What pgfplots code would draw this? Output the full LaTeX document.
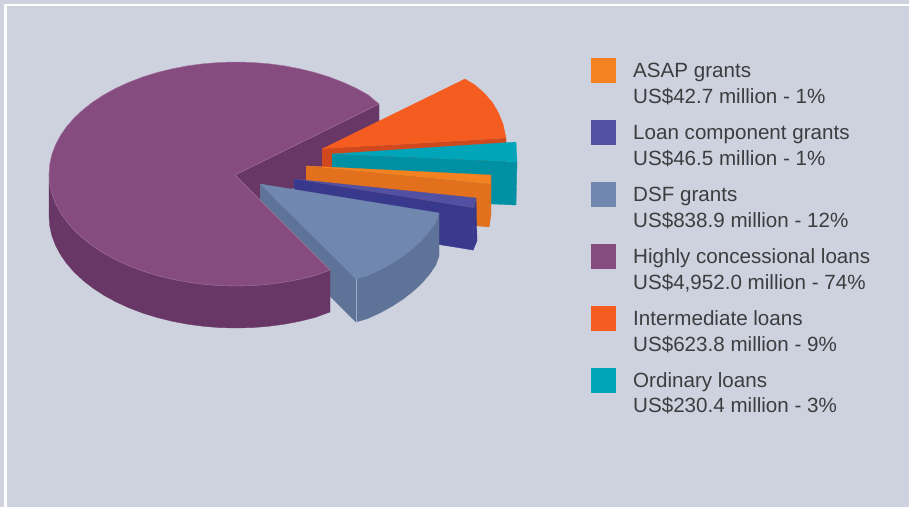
\documentclass[border=0pt]{standalone}
\usepackage{fontspec}
\setmainfont{Liberation Sans}
\usepackage{pgfplots}
\pgfplotsset{compat=1.18}
\definecolor{bg}{HTML}{CDD2DE}
\definecolor{txt}{HTML}{3D3D40}
\definecolor{asap}{HTML}{F58220}
\definecolor{asapw}{HTML}{E2701C}
\definecolor{loan}{HTML}{5150A2}
\definecolor{loanw}{HTML}{38388C}
\definecolor{dsf}{HTML}{7087B0}
\definecolor{dsfw}{HTML}{5F7398}
\definecolor{hcl}{HTML}{864C80}
\definecolor{hclw}{HTML}{693766}
\definecolor{inter}{HTML}{F55D20}
\definecolor{interw}{HTML}{D0491E}
\definecolor{ord}{HTML}{00A5BA}
\definecolor{ordw}{HTML}{0090A3}
\tikzset{
  face/.style={fill=#1, draw=#1, line width=0.3pt},
  leg/.style={font=\fontsize{20.6}{24}\selectfont, text=txt, anchor=base west, inner sep=0pt},
}
\begin{document}
\begin{tikzpicture}
\begin{axis}[
  scale only axis, width=909pt, height=507pt,
  xmin=0, xmax=909, ymin=0, ymax=507,
  y dir=reverse, hide axis,
]
% background and white frame
\addplot[fill=bg, draw=none] coordinates {(0,0) (909,0) (909,507) (0,507)};
\addplot[draw=white, line width=2.4pt] coordinates {(5.5,507) (5.5,5) (909,5)};

% inner wall of the big slice
\addplot[face=hclw] coordinates {(235,175) (379,104) (379,146) (235,217)};

% Intermediate loans
\addplot[face=interw] coordinates {(322,149) (506,138) (506,180) (322,191)};
\addplot[face=inter] coordinates {(322,149) (465,79) (475,85) (484,93) (492,102) (498,112) (503,124) (506,138)};

% Ordinary loans
\addplot[face=ordw] coordinates {(332,154) (517,162) (516,205) (332,197)};
\addplot[face=ord] coordinates {(332,154) (516,142) (517,162)};

% ASAP grants
\addplot[face=asapw] coordinates {(306,166) (490,184) (489,227) (306,209)};
\addplot[face=asapw] coordinates {(491,175) (491,215) (489,227) (490,184)};
\addplot[face=asap] coordinates {(306,166) (491,175) (490,184)};

% Loan component grants
\addplot[face=loanw] coordinates {(294,179) (474,208) (473,250) (294,221)};
\addplot[face=loanw] coordinates {(476,198) (477,241) (473,250) (474,208)};
\addplot[face=loan] coordinates {(294,179) (476,198) (474,208)};

% DSF grants
\addplot[face=dsfw] coordinates {(260,184) (356,279) (356,322) (260,227)};
\addplot[face=dsfw] coordinates {(439,213) (439,256) (435.7,265.3) (429.5,274.3) (422,283) (413.2,291.2) (403.2,299) (392.2,306.2) (380.2,312.8) (367.3,318.7) (356,322) (356,279)};
\addplot[face=dsf] coordinates {(260,184) (439,213) (435.7,222.3) (429.5,231.3) (422,240) (413.2,248.2) (403.2,256) (392.2,263.2) (380.2,269.8) (367.3,275.7) (356,279)};
\addplot[draw=dsf!70!white, line width=0.6pt] coordinates {(356,279) (356,322)};

% Highly concessional loans, outer wall then top
\addplot[face=hclw] coordinates {(49,174) (49,216) (49.7,225.8) (51.8,235.4) (55.4,245) (60.3,254.3) (66.5,263.3) (74.1,272) (82.8,280.2) (92.8,288) (103.8,295.2) (115.8,301.8) (128.7,307.7) (142.5,313) (157,317.5) (172,321.2) (187.6,324.2) (203.5,326.3) (219.7,327.6) (236,328) (252.3,327.6) (268.5,326.3) (284.4,324.2) (300,321.2) (315,317.5) (330,312) (330,270) (235,175)};
\addplot[fill=hcl, draw=hcl!75!white, line width=0.4pt] coordinates {(235,175) (330,270) (315,275.5) (300,279.2) (284.4,282.2) (268.5,284.3) (252.3,285.6) (236,286) (219.7,285.6) (203.5,284.3) (187.6,282.2) (172,279.2) (157,275.5) (142.5,271) (128.7,265.7) (115.8,259.8) (103.8,253.2) (92.8,246) (82.8,238.2) (74.1,230) (66.5,221.3) (60.3,212.3) (55.4,203) (51.8,193.4) (49.7,183.8) (49,174) (49.7,164.2) (51.8,154.6) (55.4,145) (60.3,135.7) (66.5,126.7) (74.1,118) (82.8,109.8) (92.8,102) (103.8,94.8) (115.8,88.2) (128.7,82.3) (142.5,77) (157,72.5) (172,68.8) (187.6,65.8) (203.5,63.7) (219.7,62.4) (236,62) (252.3,62.4) (268.5,63.7) (284.4,65.8) (300,68.8) (315,72.5) (329.5,77) (343.3,82.3) (356.2,88.2) (368.2,94.8) (379,104) (235,175)};

% legend
\addplot[face=asap] coordinates {(591,58) (615,58) (615,82) (591,82)};
\addplot[face=loan] coordinates {(591,120) (615,120) (615,144) (591,144)};
\addplot[face=dsf] coordinates {(591,182) (615,182) (615,206) (591,206)};
\addplot[face=hcl] coordinates {(591,244) (615,244) (615,268) (591,268)};
\addplot[face=inter] coordinates {(591,306) (615,306) (615,330) (591,330)};
\addplot[face=ord] coordinates {(591,368) (615,368) (615,392) (591,392)};

\node[leg] at (axis cs:633,77) {ASAP grants};
\node[leg] at (axis cs:633,103) {US\$42.7 million - 1\%};
\node[leg] at (axis cs:633,139) {Loan component grants};
\node[leg] at (axis cs:633,165) {US\$46.5 million - 1\%};
\node[leg] at (axis cs:633,201) {DSF grants};
\node[leg] at (axis cs:633,227) {US\$838.9 million - 12\%};
\node[leg] at (axis cs:633,263) {Highly concessional loans};
\node[leg] at (axis cs:633,289) {US\$4,952.0 million - 74\%};
\node[leg] at (axis cs:633,325) {Intermediate loans};
\node[leg] at (axis cs:633,351) {US\$623.8 million - 9\%};
\node[leg] at (axis cs:633,387) {Ordinary loans};
\node[leg] at (axis cs:633,412) {US\$230.4 million - 3\%};
\end{axis}
\end{tikzpicture}
\end{document}
